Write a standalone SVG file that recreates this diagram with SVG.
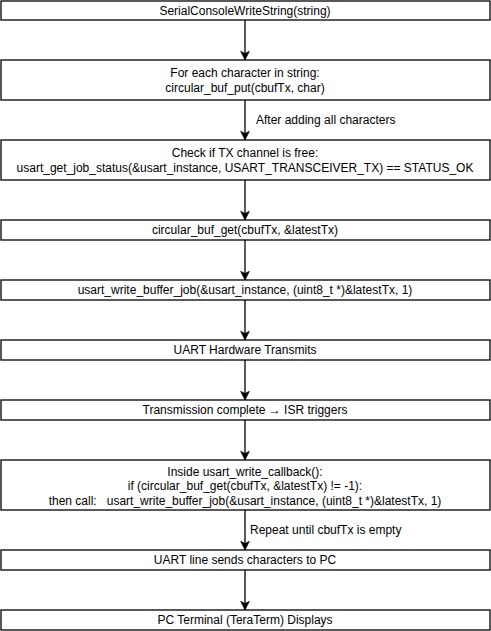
<svg xmlns="http://www.w3.org/2000/svg" width="491" height="631" viewBox="0 0 491 631">
<defs>
<style>
.box{fill:#fff;stroke:#000;stroke-width:1.3}
.t{font-family:"Liberation Sans",Arial,Helvetica,sans-serif;font-size:12px;fill:#000;text-anchor:middle;white-space:pre}
.lbl{font-family:"Liberation Sans",Arial,Helvetica,sans-serif;font-size:12px;fill:#000;text-anchor:start}
.edge{stroke:#000;stroke-width:1.3;fill:none;marker-end:url(#arr)}
</style>
<marker id="arr" markerUnits="userSpaceOnUse" markerWidth="10" markerHeight="10" viewBox="0 0 8 8" refX="7" refY="4" orient="auto">
<path d="M0,0.5 L7,4 L0,7.5 L1.8,4 Z" fill="#000" stroke="#000" stroke-width="0.5"/>
</marker>
</defs>
<rect width="491" height="631" fill="#fff"/>
<g id="connectors">
<line class="edge" x1="245" y1="20" x2="245" y2="60"/>
<line class="edge" x1="245" y1="100" x2="245" y2="140"/>
<text class="lbl" x="256" y="124">After adding all characters</text>
<line class="edge" x1="245" y1="180" x2="245" y2="220"/>
<line class="edge" x1="245" y1="240" x2="245" y2="280"/>
<line class="edge" x1="245" y1="300" x2="245" y2="340"/>
<line class="edge" x1="245" y1="360" x2="245" y2="400"/>
<line class="edge" x1="245" y1="420" x2="245" y2="460"/>
<line class="edge" x1="245" y1="510" x2="245" y2="550"/>
<text class="lbl" x="250" y="534">Repeat until cbufTx is empty</text>
<line class="edge" x1="245" y1="570" x2="245" y2="610"/>
</g>
<g id="n1"><rect class="box" x="1" y="1" width="489" height="19"/><text class="t" x="245" y="15">SerialConsoleWriteString(string)</text></g>
<g id="n2"><rect class="box" x="1" y="60" width="489" height="40"/><text class="t" x="245" y="77">For each character in string:</text><text class="t" x="245" y="92">circular_buf_put(cbufTx, char)</text></g>
<g id="n3"><rect class="box" x="1" y="140" width="489" height="40"/><text class="t" x="245" y="157">Check if TX channel is free:</text><text class="t" x="245" y="172">usart_get_job_status(&amp;usart_instance, USART_TRANSCEIVER_TX) == STATUS_OK</text></g>
<g id="n4"><rect class="box" x="1" y="220" width="489" height="20"/><text class="t" x="245" y="234">circular_buf_get(cbufTx, &amp;latestTx)</text></g>
<g id="n5"><rect class="box" x="1" y="280" width="489" height="20"/><text class="t" x="245" y="294">usart_write_buffer_job(&amp;usart_instance, (uint8_t *)&amp;latestTx, 1)</text></g>
<g id="n6"><rect class="box" x="1" y="340" width="489" height="20"/><text class="t" x="245" y="354">UART Hardware Transmits</text></g>
<g id="n7"><rect class="box" x="1" y="400" width="489" height="20"/><text class="t" x="245" y="414">Transmission complete → ISR triggers</text></g>
<g id="n8"><rect class="box" x="1" y="460" width="489" height="50"/><text class="t" x="245" y="476">Inside usart_write_callback():</text><text class="t" x="245" y="490">if (circular_buf_get(cbufTx, &amp;latestTx) != -1):</text><text class="t" x="245" y="505">then call:   usart_write_buffer_job(&amp;usart_instance, (uint8_t *)&amp;latestTx, 1)</text></g>
<g id="n9"><rect class="box" x="1" y="550" width="489" height="20"/><text class="t" x="245" y="564">UART line sends characters to PC</text></g>
<g id="n10"><rect class="box" x="1" y="610" width="489" height="20"/><text class="t" x="245" y="624">PC Terminal (TeraTerm) Displays</text></g>
</svg>
